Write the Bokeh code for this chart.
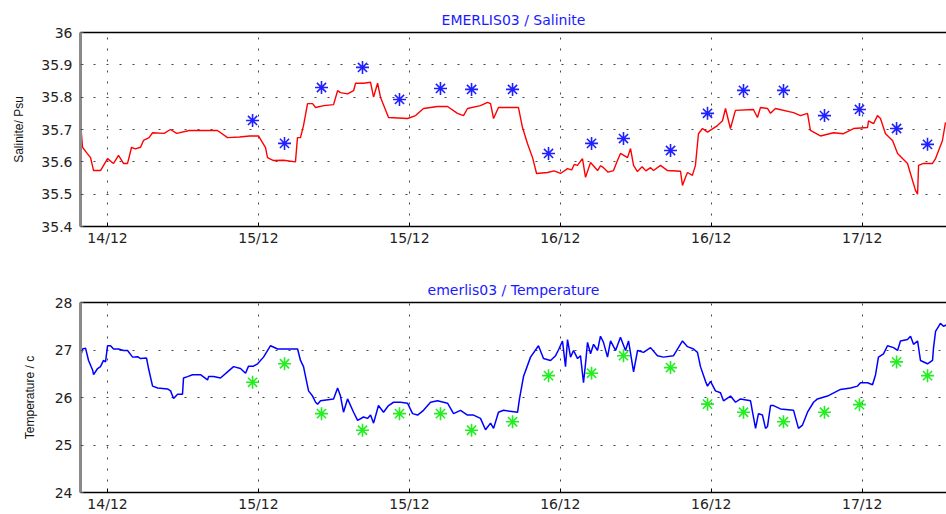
from bokeh.plotting import figure
from bokeh.models import Range1d, FixedTicker, LinearAxis
from bokeh.layouts import column
from bokeh.embed import file_html
from bokeh.resources import INLINE

# ---- x axis (hours since 14/12 00:00) ----
tick_hours = [12, 24, 36, 48, 60, 72]
tick_labels = ["14/12", "15/12", "15/12", "16/12", "16/12", "17/12"]

# ---- salinity (measured) ----
sal_hours = [9.85, 9.9, 10.01, 10.3, 10.65, 10.89, 11.44, 12.0, 12.3, 12.48,
             12.87, 13.27, 13.59, 13.91, 14.2, 14.62, 14.86, 15.3, 15.58, 16.5,
             17.0, 17.5, 18.5, 19.5, 20.74, 21.54, 22.5, 23.3, 24.0, 24.56,
             24.72, 25.2, 26.0, 26.94, 27.1, 27.34, 27.58, 27.9, 28.3, 28.54,
             29.2, 29.97, 30.29, 30.52, 31.08, 31.56, 31.72, 32.35, 32.91, 33.15,
             33.47, 33.7, 34.34, 35.85, 36.49, 37.12, 38.23, 39.03, 39.82, 40.3,
             40.62, 41.65, 42.21, 42.45, 42.69, 43.08, 44.67, 44.99, 45.39, 45.79,
             46.11, 46.98, 47.5, 48.01, 48.57, 48.9, 49.1, 49.36, 49.76, 50.0,
             50.4, 50.96, 51.2, 51.43, 51.8, 52.23, 52.5, 52.78, 53.34, 53.58,
             53.82, 54.13, 54.5, 54.8, 55.17, 55.41, 55.96, 56.52, 57.55, 57.71,
             57.95, 58.11, 58.5, 58.74, 58.98, 59.3, 59.7, 60.49, 60.89, 61.13,
             61.52, 61.92, 63.35, 63.67, 63.91, 64.47, 64.71, 65.1, 66.53, 67.09,
             67.65, 67.88, 68.68, 69.71, 70.51, 71.31, 72.42, 72.5, 72.9, 73.21,
             73.45, 73.85, 74.41, 74.81, 75.6, 75.84, 76.24, 76.4, 76.48, 76.87,
             77.59, 77.83, 78.38, 78.62]
sal_values = [35.83, 35.70, 35.645, 35.63, 35.613, 35.573, 35.573, 35.61, 35.60, 35.595,
              35.62, 35.595, 35.595, 35.645, 35.64, 35.645, 35.666, 35.675, 35.69, 35.688,
              35.70, 35.688, 35.697, 35.697, 35.697, 35.675, 35.677, 35.68, 35.68, 35.644,
              35.613, 35.604, 35.605, 35.60, 35.675, 35.675, 35.712, 35.78, 35.78, 35.768,
              35.774, 35.777, 35.82, 35.814, 35.81, 35.82, 35.843, 35.843, 35.846, 35.80,
              35.843, 35.80, 35.737, 35.734, 35.743, 35.765, 35.771, 35.771, 35.75, 35.743,
              35.765, 35.774, 35.784, 35.78, 35.734, 35.768, 35.768, 35.706, 35.656, 35.613,
              35.564, 35.567, 35.572, 35.564, 35.579, 35.575, 35.592, 35.589, 35.61, 35.552,
              35.598, 35.573, 35.588, 35.582, 35.568, 35.573, 35.60, 35.626, 35.613, 35.641,
              35.589, 35.57, 35.585, 35.572, 35.582, 35.573, 35.589, 35.573, 35.571, 35.527,
              35.552, 35.567, 35.558, 35.589, 35.687, 35.703, 35.692, 35.712, 35.727, 35.765,
              35.703, 35.759, 35.762, 35.737, 35.768, 35.765, 35.75, 35.765, 35.752, 35.743,
              35.75, 35.697, 35.68, 35.69, 35.687, 35.703, 35.706, 35.727, 35.718, 35.743,
              35.734, 35.687, 35.666, 35.626, 35.595, 35.563, 35.511, 35.50, 35.589, 35.595,
              35.595, 35.61, 35.666, 35.722]

# ---- model points (every ~3 h) ----
model_hours = [23.53, 26.07, 29.01, 32.27, 35.21, 38.47, 40.94, 44.2, 47.06, 50.48,
               53.02, 56.76, 59.7, 62.56, 65.74, 69.0, 71.78, 74.73, 77.19]
sal_model = [35.728, 35.657, 35.83, 35.892, 35.793, 35.827, 35.824, 35.824, 35.626, 35.657,
             35.672, 35.635, 35.75, 35.821, 35.821, 35.743, 35.762, 35.703, 35.654]
temp_model = [26.32, 26.71, 25.66, 25.31, 25.66, 25.66, 25.31, 25.49, 26.46, 26.51,
              26.88, 26.63, 25.86, 25.69, 25.49, 25.69, 25.85, 26.75, 26.46]

# ---- temperature (measured) ----
temp_hours = [9.85, 10.01, 10.25, 10.49, 10.81, 10.89, 11.21, 11.44, 11.68, 11.84,
              12.0, 12.24, 12.48, 12.87, 13.27, 13.59, 13.99, 14.39, 14.62, 15.10,
              15.26, 15.58, 15.98, 16.77, 17.01, 17.25, 17.57, 17.96, 18.04, 18.36,
              18.76, 19.39, 19.95, 20.03, 20.43, 20.98, 21.54, 22.02, 22.57, 22.97,
              23.21, 23.61, 23.93, 24.40, 24.96, 25.52, 26.79, 27.11, 27.34, 27.58,
              27.98, 28.30, 28.54, 28.70, 28.93, 29.97, 30.29, 30.52, 30.76, 31.08,
              31.56, 31.88, 32.35, 32.67, 32.91, 33.15, 33.54, 33.94, 34.34, 34.74,
              35.29, 35.85, 36.25, 36.65, 37.12, 37.68, 38.23, 39.03, 39.51, 40.06,
              40.62, 41.10, 41.65, 42.05, 42.45, 42.69, 43.08, 43.48, 44.60, 44.75,
              45.07, 45.63, 46.26, 46.66, 47.22, 47.62, 47.85, 48.17, 48.41, 48.57,
              48.81, 49.05, 49.37, 49.60, 49.84, 50.00, 50.16, 50.40, 50.64, 50.96,
              51.19, 51.43, 51.75, 51.99, 52.39, 52.78, 53.18, 53.42, 53.82, 54.14,
              54.61, 55.17, 55.72, 56.20, 57.00, 57.71, 58.11, 58.59, 58.90, 59.14,
              59.54, 59.70, 59.94, 60.33, 60.73, 60.97, 61.53, 61.93, 62.32, 63.12,
              63.28, 63.52, 63.75, 64.07, 64.31, 64.47, 64.71, 64.95, 65.50, 66.54,
              66.93, 67.25, 67.65, 68.13, 68.44, 69.24, 70.27, 71.07, 71.63, 71.86,
              72.42, 72.82, 73.06, 73.29, 73.69, 74.01, 74.49, 74.81, 75.04, 75.60,
              75.84, 76.08, 76.40, 76.63, 77.19, 77.59, 77.67, 77.83, 78.22, 78.46,
              78.70]
temp_values = [26.85, 27.02, 27.04, 26.78, 26.58, 26.48, 26.61, 26.65, 26.78, 26.75,
               27.09, 27.09, 27.02, 27.02, 26.99, 26.99, 26.85, 26.86, 26.82, 26.83,
               26.61, 26.24, 26.20, 26.18, 26.14, 25.98, 26.07, 26.07, 26.41, 26.44,
               26.48, 26.48, 26.37, 26.44, 26.44, 26.41, 26.54, 26.65, 26.61, 26.51,
               26.66, 26.66, 26.71, 26.85, 27.09, 27.02, 27.02, 27.02, 26.78, 26.65,
               26.14, 26.03, 25.90, 25.86, 25.93, 25.97, 26.20, 26.03, 25.69, 25.97,
               25.69, 25.52, 25.59, 25.56, 25.63, 25.46, 25.83, 25.69, 25.83, 25.90,
               25.90, 25.88, 25.66, 25.63, 25.73, 25.90, 25.93, 25.88, 25.66, 25.73,
               25.63, 25.63, 25.56, 25.32, 25.46, 25.35, 25.69, 25.73, 25.69, 25.97,
               26.44, 26.85, 27.09, 26.82, 26.78, 26.88, 27.00, 27.19, 26.65, 27.22,
               26.85, 26.99, 26.82, 26.88, 26.31, 26.71, 27.16, 26.92, 27.12, 26.99,
               27.29, 27.16, 26.85, 27.19, 26.99, 27.27, 26.99, 27.19, 26.54, 26.99,
               26.95, 27.05, 26.88, 26.85, 26.88, 27.19, 27.07, 27.02, 26.95, 26.65,
               26.34, 26.24, 26.34, 26.14, 26.10, 25.93, 26.03, 25.90, 25.97, 25.93,
               25.69, 25.35, 25.66, 25.63, 25.35, 25.39, 25.83, 25.83, 25.76, 25.73,
               25.35, 25.42, 25.69, 25.90, 25.97, 26.03, 26.17, 26.20, 26.24, 26.31,
               26.31, 26.27, 26.48, 26.85, 26.92, 27.09, 27.05, 26.99, 27.19, 27.22,
               27.29, 27.12, 27.19, 26.78, 26.71, 26.78, 27.05, 27.39, 27.56, 27.50,
               27.53]

sal_ticks = [35.4, 35.5, 35.6, 35.7, 35.8, 35.9, 36.0]
sal_tick_labels = ["35.4", "35.5", "35.6", "35.7", "35.8", "35.9", "36"]
temp_ticks = [24, 25, 26, 27, 28]
temp_tick_labels = ["24", "25", "26", "27", "28"]

assert len(sal_hours) == len(sal_values)
assert len(temp_hours) == len(temp_values)

FONT = "DejaVu Sans"


def make_fig(title, ylabel, yr, yticks, ylabels, height, top, bottom, lab_standoff):
    p = figure(width=946, height=height, x_range=Range1d(9.85, 78.7),
               y_range=Range1d(*yr), output_backend="svg", toolbar_location=None,
               min_border_left=80, min_border_right=0, min_border_top=top,
               min_border_bottom=bottom, title=title)
    p.outline_line_color = None
    p.background_fill_color = "white"
    p.border_fill_color = "white"
    p.title.align = "center"
    p.title.text_color = "#1a1aff"
    p.title.text_font = FONT
    p.title.text_font_size = "14px"
    p.title.text_font_style = "normal"

    # x axis
    xa = p.xaxis[0]
    xa.ticker = FixedTicker(ticks=tick_hours)
    xa.major_label_overrides = dict(zip(tick_hours, tick_labels))
    xa.axis_line_color = "black"
    xa.axis_line_width = 1.5
    xa.major_tick_in = 4
    xa.major_tick_out = 0
    xa.minor_tick_line_color = None
    xa.major_tick_line_color = "black"
    xa.major_label_text_font = FONT
    xa.major_label_text_font_size = "14px"
    xa.major_label_text_color = "#222222"
    xa.major_label_standoff = 3

    # top border: a bare axis line (no ticks, no labels)
    ta = LinearAxis(ticker=FixedTicker(ticks=[]), axis_line_color="black",
                    axis_line_width=1.5, major_tick_in=0, major_tick_out=0,
                    minor_tick_line_color=None, major_tick_line_color=None)
    p.add_layout(ta, "above")

    # y axis
    ya = p.yaxis[0]
    ya.ticker = FixedTicker(ticks=yticks)
    ya.major_label_overrides = dict(zip(yticks, ylabels))
    ya.axis_line_color = "#8a8a8a"
    ya.axis_line_width = 3
    ya.major_tick_in = 3
    ya.major_tick_out = 0
    ya.minor_tick_line_color = None
    ya.major_tick_line_color = "#555555"
    ya.major_label_text_font = FONT
    ya.major_label_text_font_size = "14px"
    ya.major_label_text_color = "#222222"
    ya.major_label_standoff = 8
    ya.axis_label = ylabel
    ya.axis_label_text_font = "Liberation Sans"
    ya.axis_label_text_font_size = "12px"
    ya.axis_label_text_font_style = "normal"
    ya.axis_label_text_color = "#111111"
    ya.axis_label_standoff = lab_standoff

    p.xgrid.ticker = FixedTicker(ticks=tick_hours)
    p.ygrid.ticker = FixedTicker(ticks=yticks)
    p.xgrid.grid_line_color = "#444444"
    p.xgrid.grid_line_dash = "2 9"
    p.ygrid.grid_line_color = "#444444"
    p.ygrid.grid_line_dash = "2 11"
    return p


p1 = make_fig("EMERLIS03 / Salinite", "Salinite/ Psu", (35.4, 36.0),
              sal_ticks, sal_tick_labels, 265, 32, 39, 12)
p1.line(sal_hours, sal_values, line_color="#ff0000", line_width=1.4)
p1.scatter(model_hours, sal_model, marker="asterisk", size=13,
           line_color="#2020ff", line_width=1.6)

p2 = make_fig("emerlis03 / Temperature", "Temperature / c", (24, 28),
              temp_ticks, temp_tick_labels, 249, 37, 18, 15)
p2.line(temp_hours, temp_values, line_color="#0000ff", line_width=1.5)
p2.scatter(model_hours, temp_model, marker="asterisk", size=13,
           line_color="#22ee22", line_width=1.6)

layout = column(p1, p2, spacing=0)
open("out.html", "w").write(file_html(layout, INLINE))
